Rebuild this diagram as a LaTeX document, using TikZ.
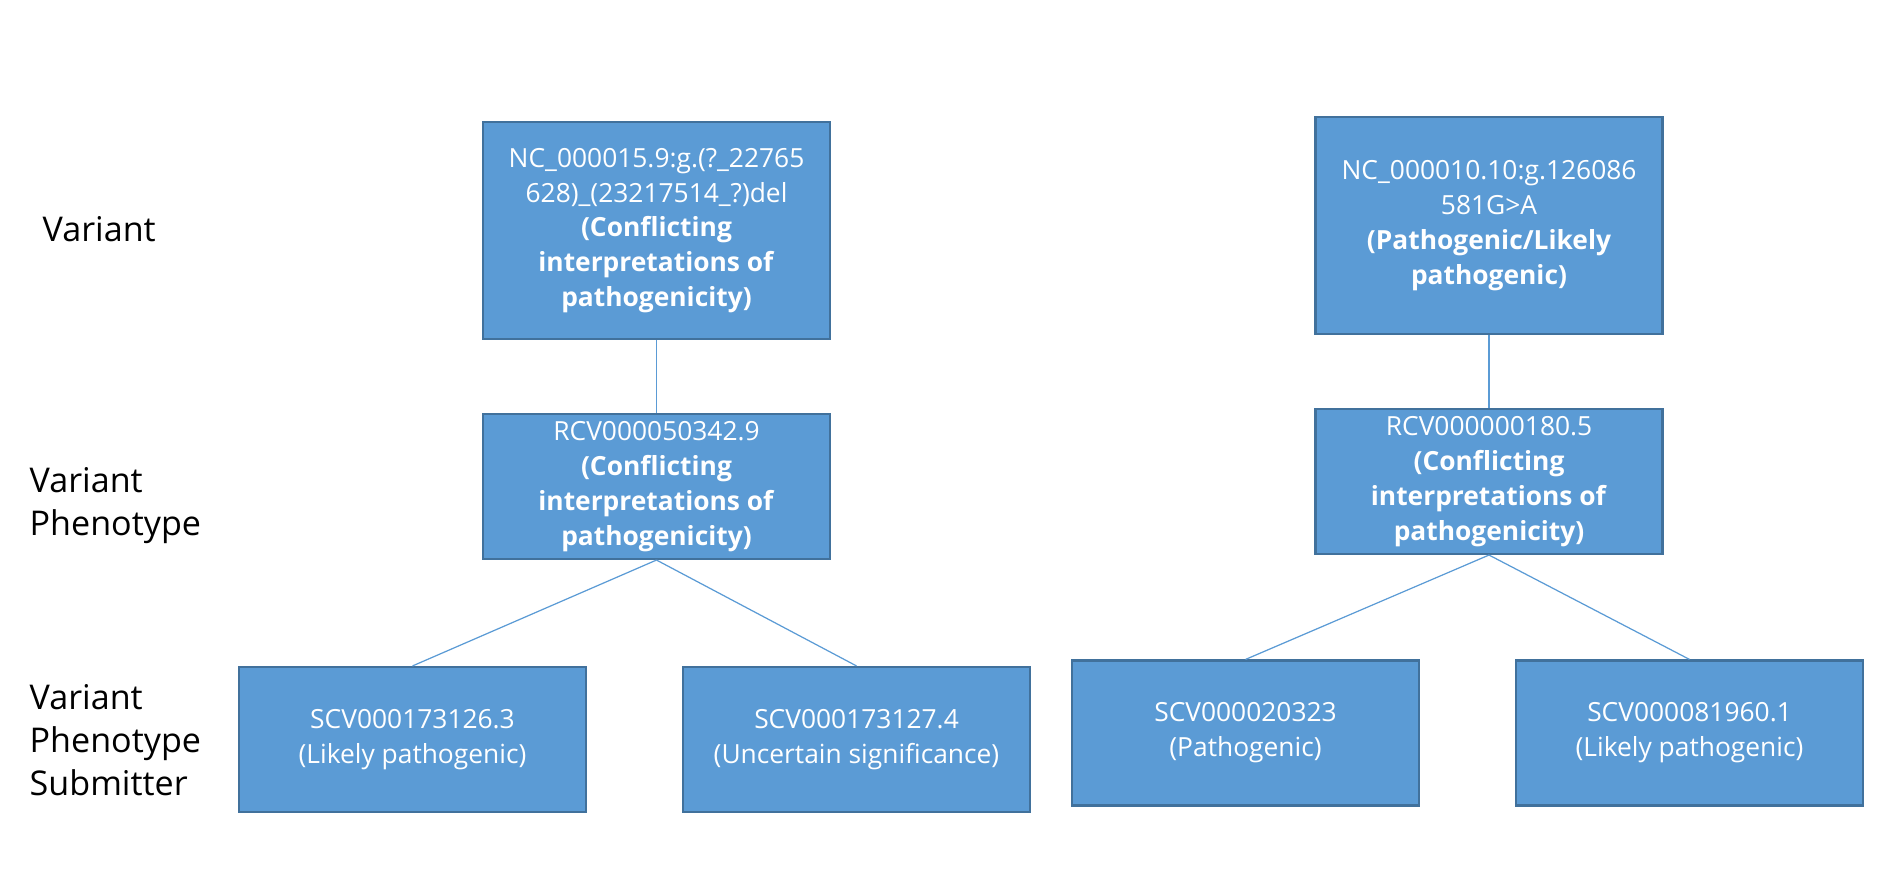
\documentclass[tikz,border=0pt]{standalone}
\usepackage{fontspec}
\setmainfont{Open Sans}
\definecolor{boxblue}{HTML}{5B9BD5}
\definecolor{boxedge}{HTML}{41719C}

\begin{document}
\begin{tikzpicture}[
    entry/.style={draw=boxedge, line width=0.6pt, fill=boxblue, text=white, align=center,
      minimum width=3.47cm, minimum height=1.45cm, inner sep=0pt,
      font=\fontsize{7.5}{9.9}\selectfont},
    level/.style={anchor=west, align=left, inner sep=0pt, font=\fontsize{9.7}{12.2}\selectfont},
    link/.style={draw=boxblue, line width=0.35pt}]
    \useasboundingbox (0,0) rectangle (18.94,8.72);
    \node[level] (lvvar) at (0.42,6.43) {Variant};
    \node[level] (lvphen) at (0.29,3.66) {Variant\\Phenotype};
    \node[level] (lvsub) at (0.29,1.32) {Variant\\Phenotype\\Submitter};
    \node[entry, minimum height=2.17cm] (var1) at (6.565,6.415)
      {NC\_000015.9:g.(?\_22765\\628)\_(23217514\_?)del\\\textbf{(Conflicting}\\\textbf{interpretations of}\\\textbf{pathogenicity)}};
    \node[entry, minimum height=2.17cm] (var2) at (14.89,6.465)
      {NC\_000010.10:g.126086\\581G>A\\\textbf{(Pathogenic/Likely}\\\textbf{pathogenic)}};
    \node[entry] (phen1) at (6.565,3.855)
      {RCV000050342.9\\\textbf{(Conflicting}\\\textbf{interpretations of}\\\textbf{pathogenicity)}};
    \node[entry] (phen2) at (14.89,3.905)
      {RCV000000180.5\\\textbf{(Conflicting}\\\textbf{interpretations of}\\\textbf{pathogenicity)}};
    \node[entry] (sub1) at (4.125,1.325) {SCV000173126.3\\(Likely pathogenic)};
    \node[entry] (sub2) at (8.565,1.325) {SCV000173127.4\\(Uncertain significance)};
    \node[entry] (sub3) at (12.455,1.39) {SCV000020323\\(Pathogenic)};
    \node[entry] (sub4) at (16.895,1.39) {SCV000081960.1\\(Likely pathogenic)};
    \draw[link] (var1.south) -- (phen1.north);
    \draw[link] (var2.south) -- (phen2.north);
    \draw[link] (phen1.south) -- (sub1.north);
    \draw[link] (phen1.south) -- (sub2.north);
    \draw[link] (phen2.south) -- (sub3.north);
    \draw[link] (phen2.south) -- (sub4.north);
  \end{tikzpicture}
\end{document}
